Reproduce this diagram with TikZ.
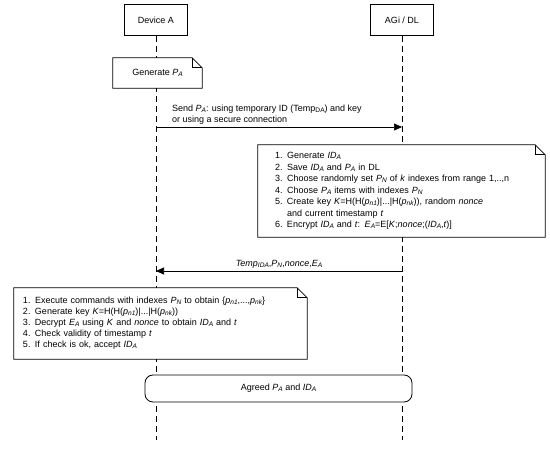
\documentclass[tikz,border=0pt]{standalone}
\usepackage{fontspec}
\setmainfont{Liberation Sans}
\usetikzlibrary{positioning, arrows.meta}
\newcommand{\lo}[1]{\raisebox{-0.2ex}{\fontsize{6.6}{7}\selectfont #1}}

\begin{document}
\begin{tikzpicture} [x=1pt, y=-1pt, font=\fontsize{9}{11}\selectfont,
  actor/.style={rectangle, draw, line width=1.6pt, minimum width=63pt, minimum height=31pt},
  life/.style={dashed, dash pattern=on 6pt off 4pt, line width=0.9pt},
  note/.style={fill=white, inner ysep=0pt, align=left},
  msg/.style={-{Triangle[length=8pt, width=7pt]}, line width=0.7pt}]
  \useasboundingbox (0,0) rectangle (550,449);

  \draw (156,20)   node[actor](devA) {Device A};
  \draw (402,20)   node[actor](agi)  {AGi / DL};
  \coordinate (devAend) at (156,440);
  \coordinate (agiend)  at (402,440);
  \draw[life] (devA) -- (devAend);
  \draw[life] (agi) -- (agiend);

  \draw (157.5,73) node[note, align=center, minimum width=89pt, minimum height=30pt](gen) {Generate \textit{P\lo{A}}};

  % send P_A
  \coordinate (sndA) at (156,127);
  \coordinate (sndB) at (402,127);
  \draw[msg] (sndA) -- (sndB);
  \draw (172,125) node[anchor=south west, align=left, inner sep=0pt](sndlbl) {Send \textit{P\lo{A}}: using temporary ID (Temp\lo{DA}) and key\\or using a secure connection};

  \draw (401.5,191) node[note, minimum width=287pt, minimum height=92pt, inner xsep=17pt, text width=253pt,
      font=\fontsize{9}{11.5}\selectfont](calc) {1. Generate \textit{ID\lo{A}}\\
    2. Save \textit{ID\lo{A}} and \textit{P\lo{A}} in DL\\
    3. Choose randomly set \textit{P\lo{N}} of \textit{k} indexes from range 1,..,n\\
    4. Choose \textit{P\lo{A}} items with indexes \textit{P\lo{N}}\\
    5. Create key \textit{K}=H(H(\textit{p\lo{n1}})|...|H(\textit{p\lo{nk}})), random \textit{nonce}\\
    \phantom{5. }and current timestamp \textit{t}\\
    6. Encrypt \textit{ID\lo{A}} and \textit{t}: \textit{E\lo{A}}=E[\textit{K};\textit{nonce};(\textit{ID\lo{A}},\textit{t})]};

  % reply
  \coordinate (repB) at (402,271);
  \coordinate (repA) at (156,271);
  \draw[msg] (repB) -- node[above, inner sep=2pt] {\textit{Temp\lo{IDA}},\textit{P\lo{N}},\textit{nonce},\textit{E\lo{A}}} (repA);

  \draw (160.5,323.5) node[note, minimum width=293pt, minimum height=71pt, inner xsep=9pt, text width=275pt,
      font=\fontsize{9}{11}\selectfont](check) {1. Execute commands with indexes \textit{P\lo{N}} to obtain \{\textit{p\lo{n1}},...,\textit{p\lo{nk}}\}\\
    2. Generate key \textit{K}=H(H(\textit{p\lo{n1}})|...|H(\textit{p\lo{nk}}))\\
    3. Decrypt \textit{E\lo{A}} using \textit{K} and \textit{nonce} to obtain \textit{ID\lo{A}} and \textit{t}\\
    4. Check validity of timestamp \textit{t}\\
    5. If check is ok, accept \textit{ID\lo{A}}};

  \foreach \n in {gen, calc, check} {
    \draw[line width=0.8pt] (\n.north west) -- ([xshift=-10pt]\n.north east) -- ([yshift=-10pt]\n.north east) -- (\n.south east) -- (\n.south west) -- cycle;
    \draw[line width=0.8pt] ([xshift=-10pt]\n.north east) |- ([yshift=-10pt]\n.north east);
  }

  \draw (278.5,388.5) node[rectangle, rounded corners=8pt, draw, line width=0.8pt, fill=white, minimum width=267pt, minimum height=27pt](agreed) {Agreed \textit{P\lo{A}} and \textit{ID\lo{A}}};
\end{tikzpicture}
\end{document}
